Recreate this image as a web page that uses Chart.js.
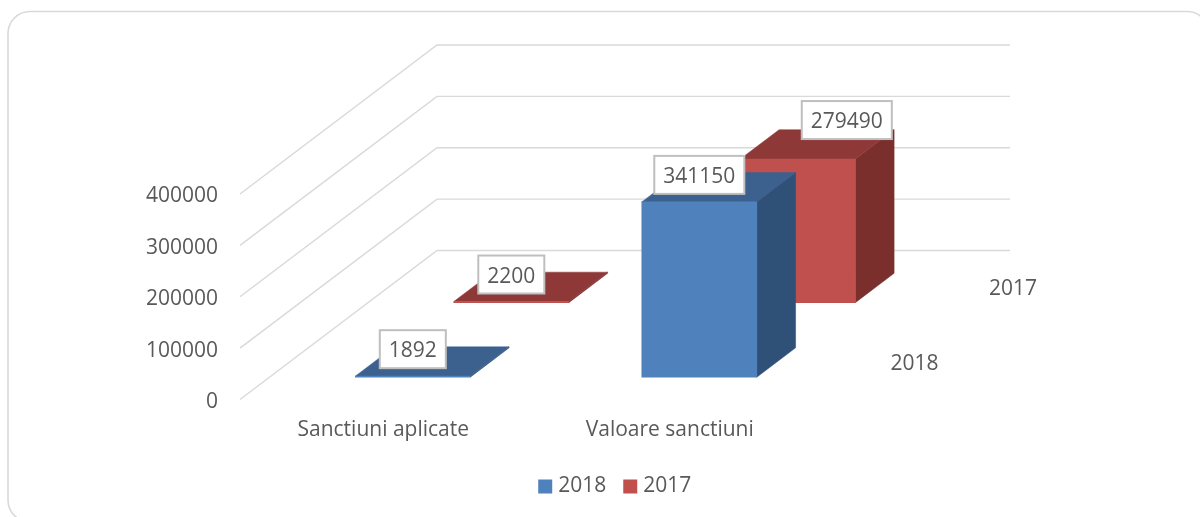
<!DOCTYPE html>
<html>
<head>
<meta charset="utf-8">
<style>html,body{margin:0;padding:0;background:#fff}#w{width:1200px;height:517px;position:relative}</style>
<script src="https://cdn.jsdelivr.net/npm/chart.js@4"></script>
</head>
<body>
<div id="w"><canvas id="c" width="1200" height="517"></canvas></div>
<script>
const categories = ["Sanctiuni aplicate", "Valoare sanctiuni"];
const seriesNames = ["2018", "2017"];
const values2018 = [1892, 341150];
const values2017 = [2200, 279490];
const yTicksStep = 100000;
const yMax = 400000;

const FONT = "'Open Sans'";
const FS = 21;
const TEXT = "#595959";
const GRID = "#D9D9D9";
const DEPTH_X = 197, DEPTH_Y = 149;          // oblique projection of the full floor depth
const seriesDepth = [0.15, 0.65];            // depth position of each series' front face
const barDepth = 0.197;                      // thickness of a bar along the depth axis
const faces = [
  {top: "#3C618F", side: "#2F5178"},
  {top: "#8E3938", side: "#7A2F2D"}
];
const labelShift = [[0, 0], [0, 49]];        // x-shift of value labels [series][category]

function poly(ctx, pts, fill) {
  ctx.beginPath();
  pts.forEach((p, i) => i ? ctx.lineTo(p[0], p[1]) : ctx.moveTo(p[0], p[1]));
  ctx.closePath();
  ctx.fillStyle = fill;
  ctx.fill();
  ctx.strokeStyle = fill;
  ctx.lineWidth = 0.5;
  ctx.stroke();
}

const scene3d = {
  id: "scene3d",
  afterLayout(chart) {
    chart.legend.left = 34;
    chart.legend.right = 1200;
    chart.legend.top += 2;
    chart.legend.bottom += 2;
  },
  beforeDraw(chart) {
    const ctx = chart.ctx;
    ctx.save();
    ctx.fillStyle = "#fff";
    ctx.fillRect(0, 0, 1200, 517);
    ctx.beginPath();
    ctx.roundRect(8, 11.5, 1201, 510.5, 22);
    ctx.strokeStyle = GRID;
    ctx.lineWidth = 1.6;
    ctx.stroke();
    ctx.restore();
  },
  beforeDatasetsDraw(chart) {
    const ctx = chart.ctx, y = chart.scales.y, a = chart.chartArea;
    ctx.save();
    ctx.strokeStyle = GRID;
    ctx.lineWidth = 1.4;
    y.ticks.forEach(t => {
      const py = y.getPixelForValue(t.value);
      ctx.beginPath();
      ctx.moveTo(a.left, py);
      ctx.lineTo(a.left + DEPTH_X, py - DEPTH_Y);
      ctx.lineTo(a.right + DEPTH_X, py - DEPTH_Y);
      ctx.stroke();
    });
    ctx.restore();
  },
  beforeDatasetDraw(chart, args) {
    const ctx = chart.ctx, i = args.index, d = seriesDepth[i];
    ctx.save();
    ctx.translate(d * DEPTH_X, -d * DEPTH_Y);
    const dx = barDepth * DEPTH_X, dy = barDepth * DEPTH_Y;
    args.meta.data.forEach(b => {
      const l = b.x - b.width / 2, r = b.x + b.width / 2;
      poly(ctx, [[r, b.y], [r + dx, b.y - dy], [r + dx, b.base - dy], [r, b.base]], faces[i].side);
      poly(ctx, [[l, b.y], [l + dx, b.y - dy], [r + dx, b.y - dy], [r, b.y]], faces[i].top);
    });
  },
  afterDatasetDraw(chart) {
    chart.ctx.restore();
  },
  afterDatasetsDraw(chart) {
    const ctx = chart.ctx, a = chart.chartArea;
    ctx.save();
    ctx.font = FS + "px " + FONT;
    ctx.textBaseline = "middle";
    chart.data.datasets.forEach((ds, i) => {
      const d = seriesDepth[i];
      chart.getDatasetMeta(i).data.forEach((b, j) => {
        const txt = String(ds.data[j]);
        const w = ctx.measureText(txt).width + 18, h = 38;
        const cx = b.x + d * DEPTH_X + labelShift[i][j];
        const cy = b.y - d * DEPTH_Y - 27 - (labelShift[i][j] ? 12 : 0);
        ctx.fillStyle = "#fff";
        ctx.fillRect(cx - w / 2, cy - h / 2, w, h);
        ctx.strokeStyle = "#BFBFBF";
        ctx.lineWidth = 2;
        ctx.strokeRect(cx - w / 2, cy - h / 2, w, h);
        ctx.fillStyle = TEXT;
        ctx.textAlign = "center";
        ctx.fillText(txt, cx, cy + 2);
      });
      ctx.fillStyle = TEXT;
      ctx.textAlign = "left";
      ctx.fillText(ds.label, a.right + d * DEPTH_X + 48, a.bottom - d * DEPTH_Y - 13.5);
    });
    ctx.restore();
  }
};

new Chart(document.getElementById("c"), {
  type: "bar",
  data: {
    labels: categories,
    datasets: [
      {label: seriesNames[0], data: values2018, backgroundColor: "#4F81BD", barThickness: 115, grouped: false, clip: false},
      {label: seriesNames[1], data: values2017, backgroundColor: "#C0504D", barThickness: 115, grouped: false, clip: false}
    ]
  },
  options: {
    responsive: false,
    animation: false,
    devicePixelRatio: 1,
    layout: {padding: {left: 0, top: 194, right: 387, bottom: 12}},
    plugins: {
      tooltip: {enabled: false},
      legend: {
        position: "bottom",
        labels: {
          color: TEXT,
          font: {family: FONT, size: FS},
          boxWidth: 5,
          boxHeight: 5,
          padding: 21.5,
          generateLabels(chart) {
            return chart.data.datasets.map((ds, i) => ({
              text: ds.label,
              fillStyle: ds.backgroundColor,
              strokeStyle: ds.backgroundColor,
              lineWidth: 9,
              fontColor: TEXT,
              datasetIndex: i
            }));
          }
        }
      }
    },
    scales: {
      x: {
        grid: {display: false},
        border: {display: false},
        ticks: {color: TEXT, font: {family: FONT, size: FS}, padding: 10, maxRotation: 0},
        afterFit(s) { s.height = 53; }
      },
      y: {
        min: 0,
        max: yMax,
        grid: {display: false},
        border: {display: false},
        ticks: {stepSize: yTicksStep, color: TEXT, font: {family: FONT, size: FS}, padding: 14, labelOffset: 2.5, callback: v => String(v)},
        afterFit(s) { s.width = 240; }
      }
    }
  },
  plugins: [scene3d]
});
</script>
</body>
</html>
